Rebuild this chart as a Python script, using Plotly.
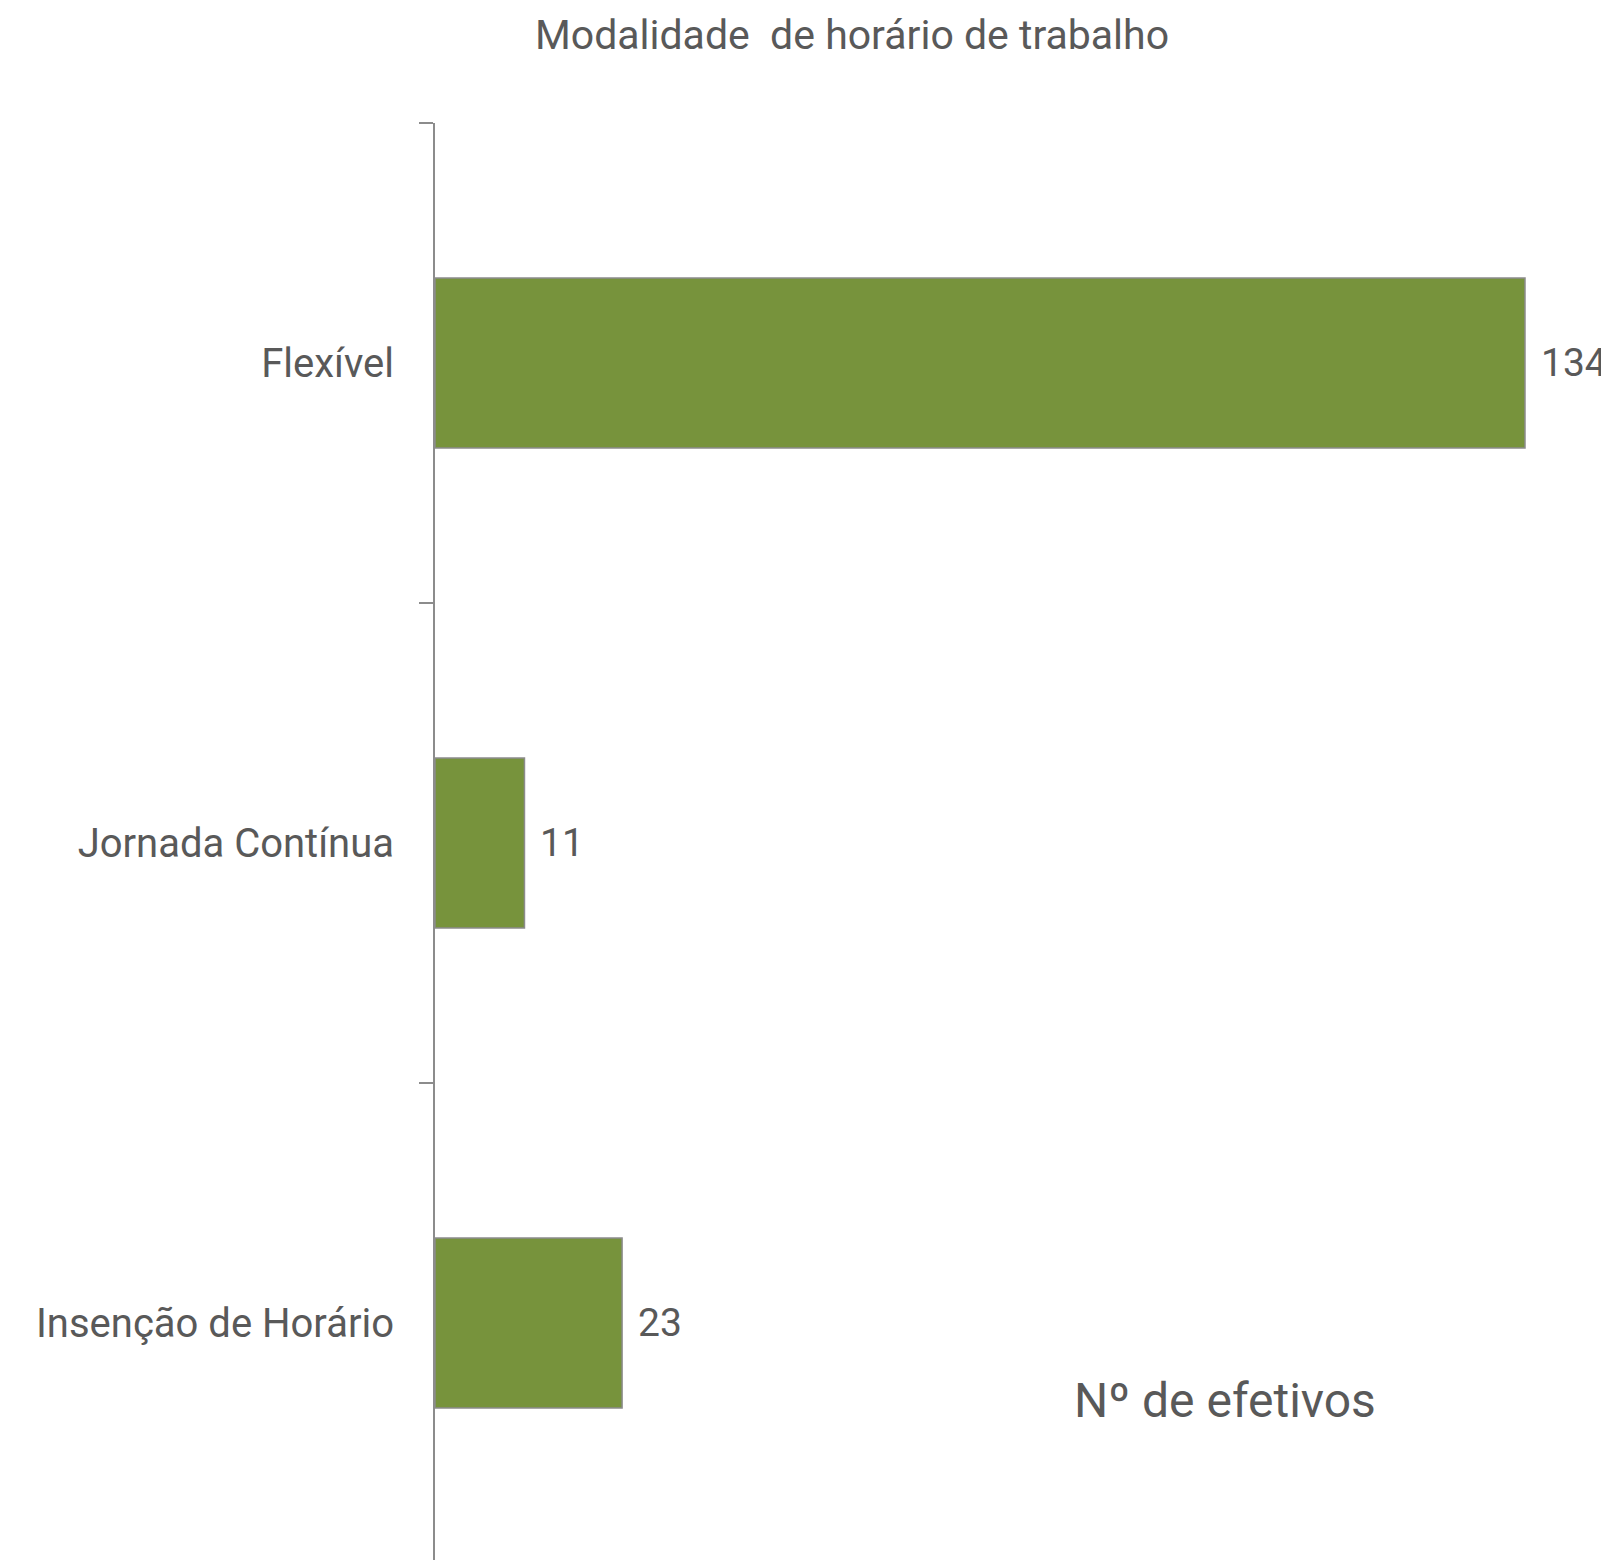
import plotly.graph_objects as go

categories = ["Flexível", "Jornada Contínua", "Insenção de Horário"]
values = [134, 11, 23]
title_text = "Modalidade \u00a0de horário de trabalho"
axis_title = "Nº de efetivos"

FONT = "Roboto, 'Open Sans', sans-serif"
TXT = "#595959"
GRAY = "#8c8c8c"

O = 8  # page body margin offset
W, H = 1609 - O, 1560 - O
L, T = 435 - O, 123 - O
plot_w = W - L
plot_h = H - T
px_per_unit = 1090 / 134
xmax = plot_w / px_per_unit

fig = go.Figure()
fig.add_trace(go.Bar(
    y=categories, x=values, orientation="h",
    width=0.354,
    marker=dict(color="#77933C", line=dict(color=GRAY, width=1.5)),
    showlegend=False, hoverinfo="skip",
))

for c, v in zip(categories, values):
    fig.add_annotation(x=v, y=c, xref="x", yref="y", text=str(v),
                       showarrow=False, xanchor="left", yanchor="middle",
                       xshift=14, font=dict(family=FONT, size=39, color=TXT))

fig.add_annotation(x=(1225 - 435) / plot_w, y=(1560 - 1400) / plot_h, xref="paper", yref="paper",
                   text=axis_title, showarrow=False, xanchor="center", yanchor="middle",
                   font=dict(family=FONT, size=48, color=TXT))

fig.update_layout(
    width=W, height=H,
    margin=dict(l=L, r=0, t=T, b=0, pad=0),
    paper_bgcolor="white", plot_bgcolor="white",
    title=dict(text=title_text, x=(852 - O) / W, xanchor="center", xref="container",
               y=1 - (35 - O) / H, yanchor="middle", yref="container",
               font=dict(family=FONT, size=41, color=TXT)),
    xaxis=dict(range=[0, xmax], visible=False, showgrid=False, zeroline=False),
    yaxis=dict(type="category", categoryorder="array", categoryarray=categories,
               range=[2.5 - 3 / 480, -0.5],
               showline=True, linecolor=GRAY, linewidth=2,
               ticks="outside", ticklen=14, tickcolor=GRAY, tickwidth=2,
               tickson="boundaries", showgrid=False, zeroline=False,
               ticklabelstandoff=31,
               tickfont=dict(family=FONT, size=40, color=TXT)),
)

fig.write_html("out.html")
